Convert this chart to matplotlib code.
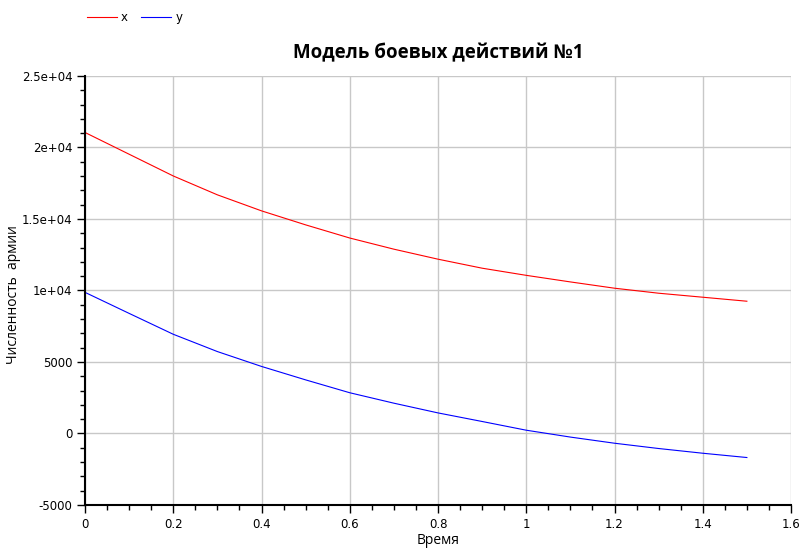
import numpy as np
import matplotlib.pyplot as plt
from matplotlib.ticker import MultipleLocator, FuncFormatter

# Values
t = [0.0, 0.1, 0.2, 0.3, 0.4, 0.5, 0.6, 0.7, 0.8, 0.9, 1.0, 1.1, 1.2, 1.3, 1.4, 1.5]
x_army = [21050, 19530, 18010, 16690, 15570, 14590, 13670, 12890, 12190, 11560,
          11060, 10600, 10160, 9810, 9530, 9250]
y_army = [9870, 8400, 6940, 5730, 4690, 3750, 2850, 2120, 1440, 840,
          230, -250, -680, -1050, -1380, -1680]

title = "Модель боевых действий №1"
x_label = "Время"
y_label = "Численность  армии"

fig = plt.figure(figsize=(8.01, 5.52), dpi=100)
ax = fig.add_axes([85 / 801, 1 - 505 / 552, (791 - 85) / 801, (505 - 76) / 552])

l1, = ax.plot(t, x_army, color='#ff0000', lw=0.8, label='x')
l2, = ax.plot(t, y_army, color='#0000ff', lw=0.8, label='y')

ax.set_xlim(0, 1.6)
ax.set_ylim(-5000, 25000)
ax.xaxis.set_major_locator(MultipleLocator(0.2))
ax.xaxis.set_minor_locator(MultipleLocator(0.05))
ax.yaxis.set_major_locator(MultipleLocator(5000))
ax.yaxis.set_minor_locator(MultipleLocator(1000))


def fmt_y(v, pos):
    if abs(v) >= 10000:
        s = "%.1e" % v
        mant, exp = s.split('e')
        mant = mant.rstrip('0').rstrip('.')
        return mant + 'e' + exp
    return "%d" % v


def fmt_x(v, pos):
    return ("%.1f" % v).rstrip('0').rstrip('.')


ax.yaxis.set_major_formatter(FuncFormatter(fmt_y))
ax.xaxis.set_major_formatter(FuncFormatter(fmt_x))

ax.grid(True, which='major', color='#c8c8c8', lw=1.0)
ax.set_axisbelow(True)
for s in ['top', 'right']:
    ax.spines[s].set_visible(False)
for s in ['left', 'bottom']:
    ax.spines[s].set_linewidth(1.5)
ax.tick_params(which='major', length=6, width=1, labelsize=8.5, pad=3)
ax.tick_params(which='minor', length=3.5, width=1)
for lab in ax.get_xticklabels() + ax.get_yticklabels():
    lab.set_family('DejaVu Sans')

ax.set_title(title, fontsize=13.5, fontweight='bold', family='Open Sans', pad=13)
ax.set_xlabel(x_label, fontsize=10, family='Open Sans', labelpad=2)
ax.set_ylabel(y_label, fontsize=10, family='Open Sans')
# label column sits a few pixels in from the left edge
ax.yaxis.set_label_coords(-64 / 706, 0.49)

fig.legend(handles=[l1, l2], loc='upper left', bbox_to_anchor=(82 / 801, 1 - 6 / 552),
           ncol=2, frameon=False, fontsize=8.5, handlelength=2.55, handletextpad=0.35,
           columnspacing=1.1, borderaxespad=0)

fig.savefig('out.png', dpi=100)
